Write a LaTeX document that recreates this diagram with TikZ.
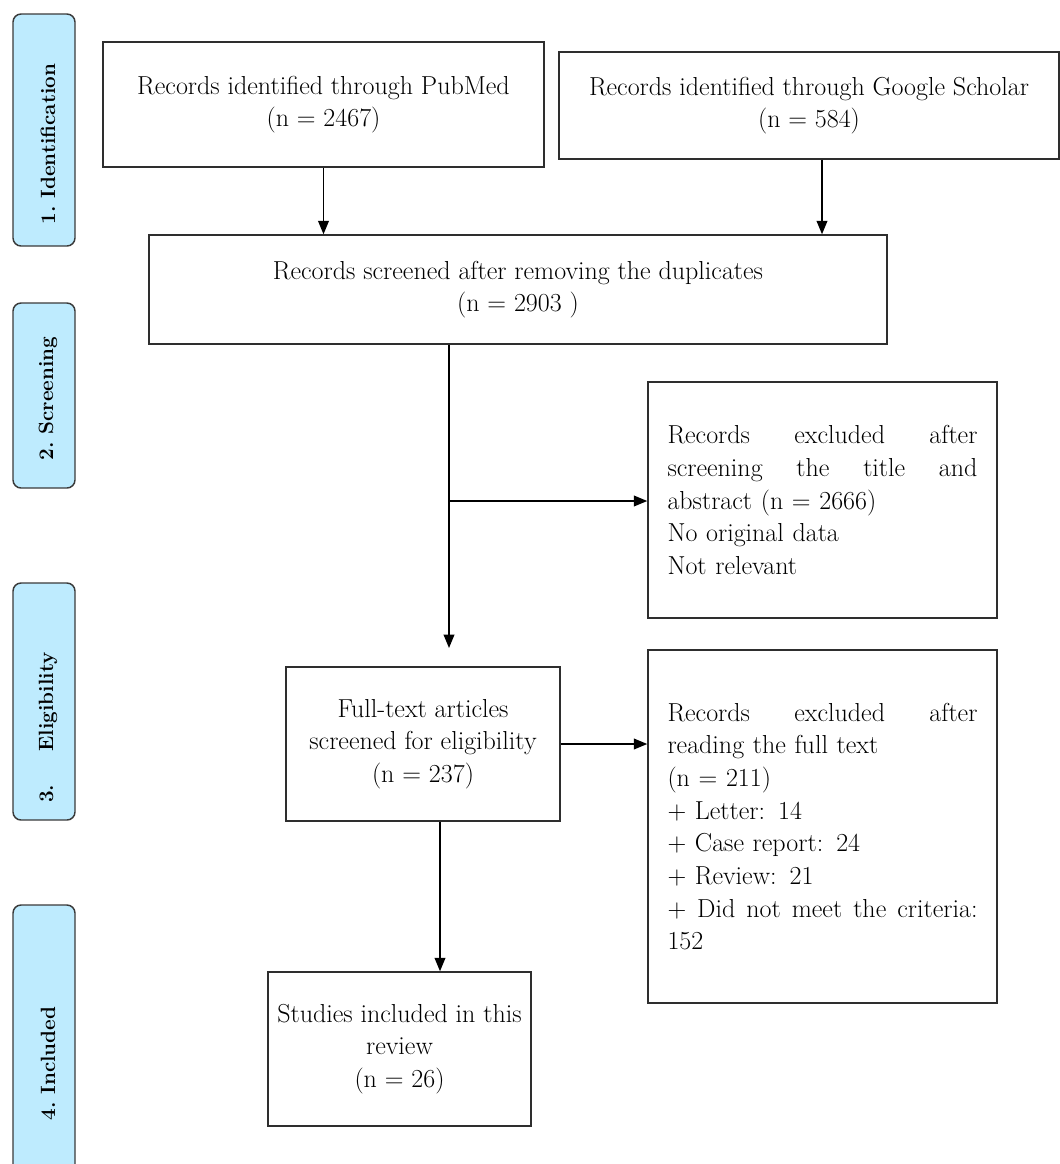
\documentclass[tikz,border=0pt]{standalone}
\usepackage{fontspec}
\usetikzlibrary{arrows.meta,calc}
\definecolor{lblfill}{HTML}{BEEBFE}
\definecolor{lbldraw}{HTML}{3A3A3A}
\definecolor{boxdraw}{HTML}{2E2E2E}
\newcommand{\jline}[1]{\makebox[232.5pt][l]{#1}}
\begin{document}
\begin{tikzpicture}[x=0.75pt,y=-0.75pt,
  box/.style={draw=boxdraw,line width=1.1pt,inner sep=0pt,align=center,
    font=\fontsize{19.5}{24.5}\selectfont},
  exbox/.style={box,align=left,text width=232.5pt,minimum width=261.75pt},
  lbl/.style={draw=lbldraw,fill=lblfill,line width=1.1pt,rounded corners=6pt,
    inner sep=0pt,minimum width=46.5pt},
  lbltxt/.style={rotate=90,inner sep=0pt,font=\fontsize{15.5}{18}\selectfont\bfseries},
  arr/.style={draw=black,line width=1.1pt,-{Triangle[length=10pt,width=8pt]}}]
\useasboundingbox (0,0) rectangle (1060,1164);
\clip (0,0) rectangle (1060,1164);
% stage labels
\node[lbl,minimum height=174pt] (l1) at (44,130) {};
\node[lbl,minimum height=138.75pt] (l2) at (44,395.5) {};
\node[lbl,minimum height=177.75pt] (l3) at (44,701.5) {};
\node[lbl,minimum height=213.75pt] (l4) at (44,1047.5) {};
\node[lbltxt] (t1) at ($(l1.center)+(4,14)$) {1.\ Identification};
\node[lbltxt] (t2) at ($(l2.center)+(4,3)$) {2.\ Screening};
\node[lbltxt] (t3) at ($(l3.center)+(4,26)$) {3.\hspace{1.6em}Eligibility};
\node[lbltxt] (t4) at ($(l4.center)+(4,16)$) {4.\ Included};
% boxes
\node[box,minimum width=330.75pt,minimum height=93.75pt] (pubmed) at (323.5,104.5)
  {Records identified through PubMed\\(n = 2467)};
\node[box,minimum width=375pt,minimum height=80.25pt] (scholar) at (809,105.5)
  {Records identified through Google Scholar\\(n = 584)};
\node[box,minimum width=553.5pt,minimum height=81.75pt] (screened) at (518,289.5)
  {Records screened after removing the duplicates\\(n = 2903 )};
\node[exbox,minimum height=177pt] (excl1) at (822.5,500)
  {\jline{Records\hfill excluded\hfill after}\\
   \jline{screening\hfill the\hfill title\hfill and}\\
   abstract (n = 2666)\\
   No original data\\
   Not relevant};
\node[box,minimum width=205.5pt,minimum height=115.5pt] (fulltext) at (423,744)
  {Full-text articles\\screened for eligibility\\(n = 237)};
\node[exbox,minimum height=264.75pt] (excl2) at (822.5,826.5)
  {\jline{Records\hfill excluded\hfill after}\\
   reading the full text\\
   (n = 211)\\
   + Letter: 14\\
   + Case report: 24\\
   + Review: 21\\
   \jline{+\hfill Did\hfill not\hfill meet\hfill the\hfill criteria:}\\
   152};
\node[box,minimum width=197.25pt,minimum height=115.5pt] (studies) at (399.5,1049)
  {Studies included in this\\review\\(n = 26)};
% connectors
\coordinate (sx) at (822,0);
\coordinate (vend) at (449,648);
\coordinate (bj) at (449,501);
\coordinate (dx) at (440,0);
\draw[arr] (pubmed.south) -- (pubmed.south |- screened.north);
\draw[arr] (scholar.south -| sx) -- (screened.north -| sx);
\draw[arr] (screened.south -| vend) -- (vend);
\draw[arr] (bj) -- (excl1.west |- bj);
\draw[arr] (fulltext.east) -- (excl2.west |- fulltext.east);
\draw[arr] (fulltext.south -| dx) -- (studies.north -| dx);
\end{tikzpicture}
\end{document}
